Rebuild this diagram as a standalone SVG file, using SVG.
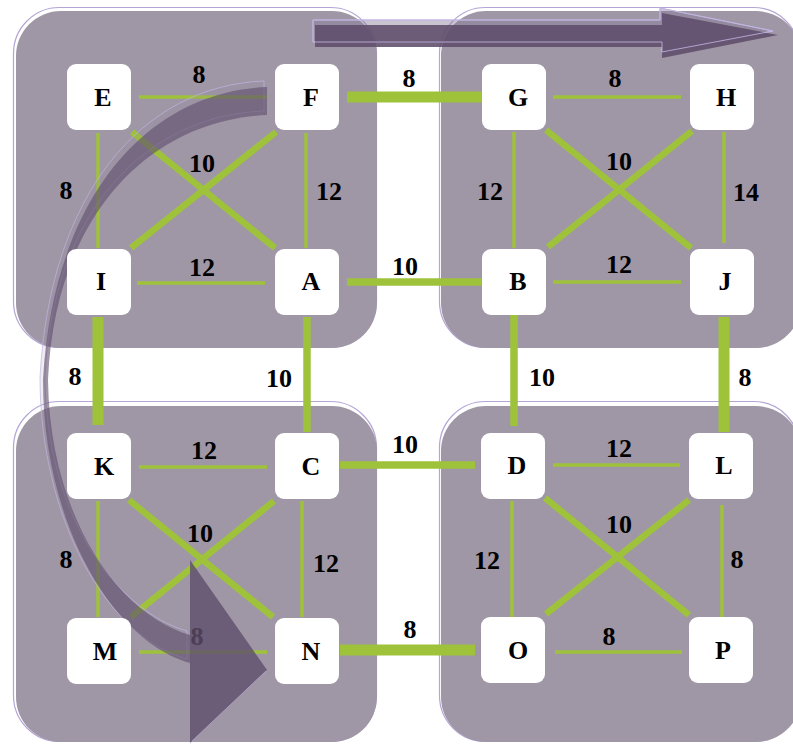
<svg xmlns="http://www.w3.org/2000/svg" width="793" height="745" viewBox="0 0 793 745">
<style>
.pf{fill:#9f97a6}
.pe{fill:none;stroke:#b4a5d5;stroke-width:1.2}
.g{stroke:#9fc23b;fill:none}
.t{stroke-width:3.5}
.d{stroke-width:6.5}
.m{stroke-width:7.5}
.k{stroke-width:11}
.box{fill:#ffffff}
.lbl{font-family:"Liberation Serif","Times New Roman","DejaVu Serif",serif;font-weight:bold;font-size:26px;fill:#000;text-anchor:middle}
.arrL{fill:#8a7d98;fill-opacity:0.45;stroke:#c2b5e2;stroke-width:1}
.arrD{fill:#5e4d6b;fill-opacity:0.6}
.arrH{fill:#5e4d6b;fill-opacity:0.8}
.arrO{fill:none;stroke:#c2b5e2;stroke-width:1;stroke-opacity:0.8}
</style>
<rect width="793" height="745" fill="#ffffff"/>
<g id="panels">
  <rect class="pe" x="13.5" y="7.5" width="363" height="340" rx="46"/>
  <rect class="pf" x="16" y="11" width="361" height="337" rx="45"/>
  <rect class="pe" x="439.5" y="7.5" width="360" height="340" rx="46"/>
  <rect class="pf" x="441" y="11" width="360" height="337" rx="45"/>
  <rect class="pe" x="13.5" y="401.5" width="363" height="340" rx="46"/>
  <rect class="pf" x="16" y="406" width="361" height="336" rx="45"/>
  <rect class="pe" x="439.5" y="401.5" width="360" height="340" rx="46"/>
  <rect class="pf" x="441" y="406" width="360" height="336" rx="45"/>
</g>
<g id="connectors">
  <line class="g t" x1="139" y1="97" x2="267" y2="97"/>
  <line class="g t" x1="98" y1="133" x2="98" y2="248"/>
  <line class="g t" x1="306" y1="133" x2="306" y2="248"/>
  <line class="g t" x1="137" y1="283" x2="265" y2="283"/>
  <line class="g d" x1="132" y1="132" x2="275" y2="248"/>
  <line class="g d" x1="276" y1="132" x2="131" y2="248"/>
  <line class="g t" x1="553" y1="97" x2="681" y2="97"/>
  <line class="g t" x1="514" y1="132" x2="514" y2="248"/>
  <line class="g t" x1="724" y1="132" x2="724" y2="243"/>
  <line class="g t" x1="553" y1="282" x2="681" y2="282"/>
  <line class="g d" x1="546" y1="130" x2="691" y2="248"/>
  <line class="g d" x1="692" y1="131" x2="548" y2="247"/>
  <line class="g t" x1="139" y1="467" x2="267" y2="467"/>
  <line class="g t" x1="98" y1="501" x2="98" y2="617"/>
  <line class="g t" x1="302" y1="501" x2="302" y2="617"/>
  <line class="g t" x1="139" y1="652" x2="267" y2="652"/>
  <line class="g d" x1="129" y1="500" x2="273" y2="617"/>
  <line class="g d" x1="274" y1="501" x2="131" y2="617"/>
  <line class="g t" x1="553" y1="465" x2="680" y2="465"/>
  <line class="g t" x1="512" y1="501" x2="512" y2="617"/>
  <line class="g t" x1="722" y1="505" x2="722" y2="617"/>
  <line class="g t" x1="555" y1="652" x2="682" y2="652"/>
  <line class="g d" x1="545" y1="498" x2="689" y2="615"/>
  <line class="g d" x1="689" y1="500" x2="546" y2="614"/>
  <line class="g k" x1="347" y1="97" x2="482" y2="97"/>
  <line class="g m" x1="347" y1="282" x2="482" y2="282"/>
  <line class="g k" x1="98" y1="317" x2="98" y2="425"/>
  <line class="g m" x1="307" y1="317" x2="307" y2="432"/>
  <line class="g m" x1="514" y1="315" x2="514" y2="426"/>
  <line class="g k" x1="724" y1="317" x2="724" y2="432"/>
  <line class="g m" x1="340" y1="465" x2="475" y2="465"/>
  <line class="g k" x1="340" y1="650" x2="475" y2="650"/>
</g>
<g id="edge-labels">
  <text class="lbl" x="199" y="83">8</text>
  <text class="lbl" x="202" y="172">10</text>
  <text class="lbl" x="66" y="199">8</text>
  <text class="lbl" x="329" y="200">12</text>
  <text class="lbl" x="202" y="276">12</text>
  <text class="lbl" x="409" y="87">8</text>
  <text class="lbl" x="405" y="275">10</text>
  <text class="lbl" x="615" y="87">8</text>
  <text class="lbl" x="619" y="170">10</text>
  <text class="lbl" x="490" y="200">12</text>
  <text class="lbl" x="746" y="201">14</text>
  <text class="lbl" x="619" y="273">12</text>
  <text class="lbl" x="75" y="385">8</text>
  <text class="lbl" x="279" y="387">10</text>
  <text class="lbl" x="542" y="386">10</text>
  <text class="lbl" x="745" y="386">8</text>
  <text class="lbl" x="204" y="459">12</text>
  <text class="lbl" x="405" y="453">10</text>
  <text class="lbl" x="200" y="542">10</text>
  <text class="lbl" x="66" y="568">8</text>
  <text class="lbl" x="326" y="572">12</text>
  <text class="lbl" x="197" y="645">8</text>
  <text class="lbl" x="410" y="638">8</text>
  <text class="lbl" x="619" y="457">12</text>
  <text class="lbl" x="619" y="533">10</text>
  <text class="lbl" x="487" y="569">12</text>
  <text class="lbl" x="737" y="568">8</text>
  <text class="lbl" x="609" y="645">8</text>
</g>
<g id="arrows">
  <path class="arrL" d="M313,20 L660,20 L660,8 L773,31 L662,52 L662,42 L313,42 Z"/>
  <path class="arrH" style="fill-opacity:0.88" d="M315,25 L662,25 L662,13 L778,35 L662,58 L662,47 L315,47 Z"/>
  <path class="arrO" d="M313,20 L660,20 L660,8 L773,31 L662,52 L662,42 L313,42 Z"/>
  <path class="arrL" style="fill-opacity:0.15;stroke-opacity:0.7" d="M264,81 C141,86 50,195 40,377 C40,517 106,637 187,659 L187,631 C117,611 46,517 45,377 C52,211 147,115 264,111 Z"/>
  <path class="arrD" d="M267,87 C145,92 53,200 43,380 C43,520 110,640 190,663 L190,635 C120,615 50,520 48,380 C55,215 150,120 267,115 Z"/>
  <path class="arrH" d="M190,560 L267,670 L190,743 Z"/>
  <path class="arrO" style="stroke-opacity:0.6" d="M192,741 L266,671"/>
</g>
<g id="node-E"><rect class="box" x="67" y="64" width="64" height="66" rx="9"/><text class="lbl" x="103" y="106">E</text></g>
<g id="node-F"><rect class="box" x="275" y="64" width="64" height="66" rx="9"/><text class="lbl" x="311" y="106">F</text></g>
<g id="node-G"><rect class="box" x="482" y="64" width="64" height="66" rx="9"/><text class="lbl" x="518" y="106">G</text></g>
<g id="node-H"><rect class="box" x="690" y="64" width="64" height="66" rx="9"/><text class="lbl" x="726" y="106">H</text></g>
<g id="node-I"><rect class="box" x="67" y="249" width="64" height="66" rx="9"/><text class="lbl" x="101" y="290">I</text></g>
<g id="node-A"><rect class="box" x="275" y="249" width="64" height="66" rx="9"/><text class="lbl" x="311" y="290">A</text></g>
<g id="node-B"><rect class="box" x="482" y="249" width="64" height="66" rx="9"/><text class="lbl" x="518" y="290">B</text></g>
<g id="node-J"><rect class="box" x="690" y="249" width="64" height="66" rx="9"/><text class="lbl" x="725" y="290">J</text></g>
<g id="node-K"><rect class="box" x="67" y="433" width="64" height="66" rx="9"/><text class="lbl" x="104" y="475">K</text></g>
<g id="node-C"><rect class="box" x="275" y="433" width="64" height="66" rx="9"/><text class="lbl" x="311" y="475">C</text></g>
<g id="node-D"><rect class="box" x="481" y="433" width="64" height="66" rx="9"/><text class="lbl" x="517" y="474">D</text></g>
<g id="node-L"><rect class="box" x="689" y="433" width="64" height="66" rx="9"/><text class="lbl" x="724" y="474">L</text></g>
<g id="node-M"><rect class="box" x="67" y="618" width="64" height="66" rx="9"/><text class="lbl" x="105" y="660">M</text></g>
<g id="node-N"><rect class="box" x="275" y="618" width="64" height="66" rx="9"/><text class="lbl" x="311" y="660">N</text></g>
<g id="node-O"><rect class="box" x="481" y="617" width="64" height="66" rx="9"/><text class="lbl" x="518" y="659">O</text></g>
<g id="node-P"><rect class="box" x="689" y="617" width="64" height="66" rx="9"/><text class="lbl" x="723" y="659">P</text></g>
</svg>
